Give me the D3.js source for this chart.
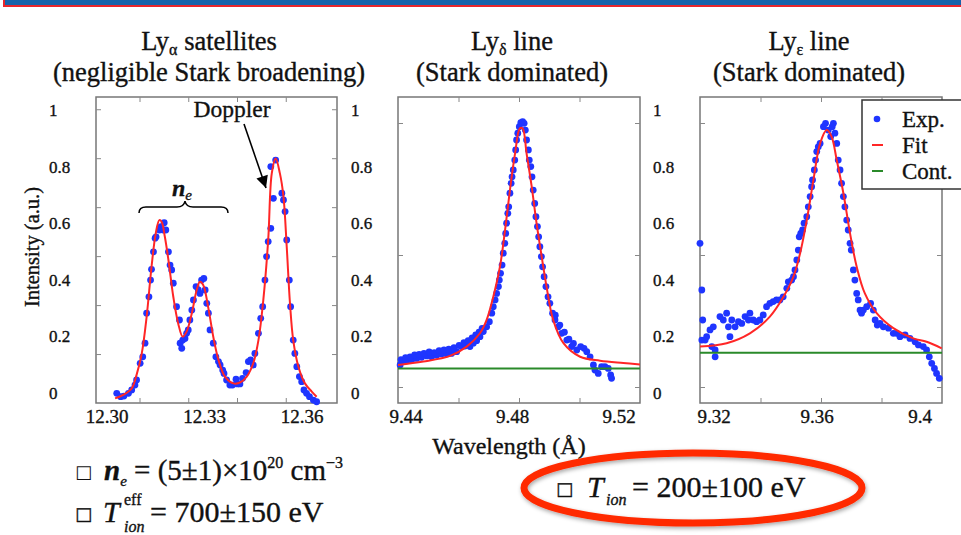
<!DOCTYPE html>
<html>
<head>
<meta charset="utf-8">
<script src="https://cdn.jsdelivr.net/npm/d3@7/dist/d3.min.js"></script>
<style>
  body { margin: 0; background: #fff; }
  svg { display: block; font-family: "Liberation Serif", "Times New Roman", serif; }
  svg text { stroke: #111; stroke-width: 0.35px; }
</style>
</head>
<body>
<div id="chart"></div>
<script>
// ---- data: [wavelength (Å), intensity (a.u.)] ----
const satExp = [
  [12.3030, -0.001], [12.3042, -0.013], [12.3052, -0.011], [12.3066, -0.001], [12.3076, 0.011],
  [12.3086, 0.028], [12.3091, 0.046], [12.3102, 0.105], [12.3110, 0.128], [12.3117, 0.176],
  [12.3122, 0.282], [12.3129, 0.340], [12.3134, 0.399], [12.3137, 0.437], [12.3143, 0.499],
  [12.3148, 0.547], [12.3151, 0.552], [12.3161, 0.576], [12.3166, 0.588], [12.3173, 0.576],
  [12.3176, 0.602], [12.3181, 0.576], [12.3189, 0.499], [12.3194, 0.452], [12.3199, 0.435],
  [12.3204, 0.388], [12.3214, 0.305], [12.3223, 0.258], [12.3225, 0.176], [12.3230, 0.158],
  [12.3233, 0.187], [12.3240, 0.193], [12.3245, 0.211], [12.3250, 0.223], [12.3255, 0.258],
  [12.3261, 0.293], [12.3266, 0.329], [12.3274, 0.376], [12.3281, 0.364], [12.3286, 0.352],
  [12.3291, 0.399], [12.3298, 0.405], [12.3302, 0.364], [12.3307, 0.317], [12.3312, 0.282],
  [12.3317, 0.223], [12.3327, 0.176], [12.3335, 0.128], [12.3343, 0.111], [12.3348, 0.099],
  [12.3356, 0.081], [12.3360, 0.069], [12.3368, 0.046], [12.3378, 0.028], [12.3386, 0.028],
  [12.3397, 0.049], [12.3401, 0.032], [12.3409, 0.032], [12.3417, 0.052], [12.3428, 0.072],
  [12.3435, 0.111], [12.3442, 0.117], [12.3450, 0.099], [12.3455, 0.140], [12.3466, 0.211],
  [12.3473, 0.264], [12.3479, 0.305], [12.3486, 0.399], [12.3491, 0.482], [12.3496, 0.535],
  [12.3504, 0.582], [12.3512, 0.688], [12.3504, 0.800], [12.3519, 0.823], [12.3538, 0.706],
  [12.3543, 0.682], [12.3548, 0.641], [12.3553, 0.541], [12.3561, 0.399], [12.3565, 0.305],
  [12.3573, 0.187], [12.3578, 0.140], [12.3584, 0.093], [12.3592, 0.058], [12.3599, 0.040],
  [12.3606, 0.011], [12.3614, -0.001], [12.3623, -0.013], [12.3635, -0.025], [12.3645, -0.031]
];
const satFit = [
  [12.3025, -0.019], [12.3050, -0.007], [12.3076, 0.016], [12.3091, 0.064], [12.3107, 0.140],
  [12.3122, 0.270], [12.3137, 0.446], [12.3150, 0.564], [12.3161, 0.611], [12.3168, 0.605],
  [12.3178, 0.552], [12.3189, 0.470], [12.3204, 0.340], [12.3219, 0.246], [12.3233, 0.199],
  [12.3245, 0.217], [12.3261, 0.282], [12.3276, 0.364], [12.3286, 0.393], [12.3296, 0.382],
  [12.3312, 0.299], [12.3327, 0.199], [12.3343, 0.117], [12.3363, 0.058], [12.3389, 0.034],
  [12.3409, 0.037], [12.3430, 0.058], [12.3450, 0.105], [12.3466, 0.187], [12.3481, 0.329],
  [12.3496, 0.541], [12.3507, 0.776], [12.3519, 0.829], [12.3532, 0.776], [12.3543, 0.694],
  [12.3553, 0.517], [12.3563, 0.317], [12.3573, 0.187], [12.3589, 0.093], [12.3609, 0.034],
  [12.3630, 0.005], [12.3645, -0.013]
];

const deltaExp = [
  [9.4407, 0.099], [9.4418, 0.111], [9.4429, 0.114], [9.4445, 0.117], [9.4462, 0.122],
  [9.4478, 0.126], [9.4495, 0.131], [9.4511, 0.128], [9.4528, 0.133], [9.4544, 0.138],
  [9.4561, 0.138], [9.4577, 0.140], [9.4594, 0.146], [9.4610, 0.164], [9.4621, 0.166],
  [9.4638, 0.164], [9.4649, 0.176], [9.4660, 0.185], [9.4671, 0.199], [9.4682, 0.217],
  [9.4693, 0.234], [9.4702, 0.252], [9.4710, 0.282], [9.4715, 0.305], [9.4721, 0.329],
  [9.4726, 0.352], [9.4732, 0.376], [9.4735, 0.399], [9.4739, 0.423], [9.4744, 0.452],
  [9.4748, 0.494], [9.4753, 0.529], [9.4756, 0.564], [9.4759, 0.600], [9.4763, 0.635],
  [9.4766, 0.658], [9.4770, 0.706], [9.4774, 0.741], [9.4777, 0.764], [9.4781, 0.788],
  [9.4786, 0.823], [9.4789, 0.859], [9.4792, 0.894], [9.4796, 0.918], [9.4801, 0.941],
  [9.4806, 0.955], [9.4812, 0.959], [9.4817, 0.953], [9.4821, 0.929], [9.4825, 0.894],
  [9.4831, 0.859], [9.4834, 0.823], [9.4839, 0.800], [9.4843, 0.764], [9.4847, 0.717],
  [9.4852, 0.670], [9.4856, 0.623], [9.4861, 0.588], [9.4865, 0.552], [9.4869, 0.517],
  [9.4874, 0.482], [9.4878, 0.446], [9.4883, 0.411], [9.4889, 0.376], [9.4896, 0.340],
  [9.4902, 0.317], [9.4911, 0.282], [9.4919, 0.258], [9.4930, 0.234], [9.4941, 0.211],
  [9.4958, 0.187], [9.4974, 0.164], [9.4991, 0.152], [9.5004, 0.164], [9.5015, 0.158],
  [9.5024, 0.146], [9.5035, 0.128], [9.5046, 0.099], [9.5051, 0.081], [9.5062, 0.069],
  [9.5073, 0.093], [9.5084, 0.093], [9.5095, 0.087], [9.5103, 0.064], [9.5106, 0.052],
  // upper edge of the dense band in the wings
  [9.4410, 0.118], [9.4425, 0.125], [9.4440, 0.128], [9.4455, 0.135], [9.4470, 0.136],
  [9.4486, 0.140], [9.4503, 0.145], [9.4520, 0.143], [9.4536, 0.150], [9.4552, 0.152],
  [9.4568, 0.155], [9.4585, 0.160], [9.4602, 0.168], [9.4618, 0.178], [9.4632, 0.185],
  [9.4645, 0.195], [9.4657, 0.205], [9.4668, 0.215], [9.4678, 0.228],
  [9.4920, 0.275], [9.4935, 0.240], [9.4950, 0.215], [9.4965, 0.190], [9.4980, 0.175]
];
const deltaFit = [
  [9.4400, 0.099], [9.4484, 0.111], [9.4572, 0.131], [9.4627, 0.164], [9.4671, 0.211],
  [9.4693, 0.258], [9.4715, 0.340], [9.4737, 0.446], [9.4754, 0.576], [9.4770, 0.717],
  [9.4787, 0.847], [9.4803, 0.935], [9.4812, 0.935], [9.4825, 0.847], [9.4842, 0.729],
  [9.4858, 0.600], [9.4875, 0.482], [9.4891, 0.376], [9.4913, 0.258], [9.4947, 0.176],
  [9.5002, 0.128], [9.5068, 0.114], [9.5145, 0.106], [9.5200, 0.101]
];
const deltaCont = 0.087;

const epsExp = [
  [9.3200, 0.529], [9.3206, 0.364], [9.3209, 0.258], [9.3206, 0.187], [9.3217, 0.187],
  [9.3222, 0.199], [9.3233, 0.223], [9.3244, 0.234], [9.3239, 0.164], [9.3250, 0.152],
  [9.3250, 0.128], [9.3266, 0.270], [9.3277, 0.258], [9.3288, 0.282], [9.3294, 0.234],
  [9.3299, 0.199], [9.3305, 0.258], [9.3316, 0.234], [9.3327, 0.252], [9.3338, 0.246],
  [9.3349, 0.270], [9.3360, 0.258], [9.3365, 0.282], [9.3376, 0.258], [9.3387, 0.252],
  [9.3398, 0.258], [9.3409, 0.276], [9.3420, 0.305], [9.3431, 0.317], [9.3442, 0.323],
  [9.3453, 0.329], [9.3464, 0.329], [9.3475, 0.340], [9.3487, 0.370], [9.3492, 0.393],
  [9.3503, 0.399], [9.3509, 0.411], [9.3514, 0.435], [9.3520, 0.470], [9.3525, 0.505],
  [9.3528, 0.552], [9.3533, 0.564], [9.3539, 0.576], [9.3544, 0.600], [9.3553, 0.623],
  [9.3558, 0.658], [9.3564, 0.694], [9.3569, 0.729], [9.3572, 0.753], [9.3578, 0.788],
  [9.3582, 0.823], [9.3586, 0.853], [9.3591, 0.870], [9.3597, 0.882], [9.3608, 0.941],
  [9.3615, 0.953], [9.3624, 0.929], [9.3632, 0.906], [9.3637, 0.941], [9.3641, 0.953],
  [9.3646, 0.918], [9.3652, 0.882], [9.3657, 0.823], [9.3663, 0.788], [9.3668, 0.741],
  [9.3674, 0.694], [9.3679, 0.658], [9.3685, 0.611], [9.3690, 0.576], [9.3696, 0.529],
  [9.3700, 0.505], [9.3707, 0.435], [9.3712, 0.399], [9.3718, 0.352], [9.3723, 0.329],
  [9.3729, 0.293], [9.3734, 0.282], [9.3740, 0.293], [9.3751, 0.305], [9.3764, 0.317],
  [9.3773, 0.293], [9.3779, 0.258], [9.3786, 0.240], [9.3795, 0.246], [9.3806, 0.234],
  [9.3823, 0.229], [9.3839, 0.211], [9.3850, 0.211], [9.3861, 0.199], [9.3878, 0.205],
  [9.3894, 0.193], [9.3911, 0.181], [9.3922, 0.170], [9.3938, 0.164], [9.3949, 0.152],
  [9.3958, 0.128], [9.3966, 0.105], [9.3975, 0.087], [9.3982, 0.069], [9.3991, 0.052]
];
const epsFit = [
  [9.3200, 0.164], [9.3288, 0.176], [9.3365, 0.211], [9.3431, 0.270], [9.3476, 0.340],
  [9.3509, 0.411], [9.3531, 0.494], [9.3553, 0.611], [9.3575, 0.753], [9.3597, 0.882],
  [9.3619, 0.929], [9.3635, 0.906], [9.3652, 0.823], [9.3674, 0.706], [9.3696, 0.564],
  [9.3718, 0.446], [9.3745, 0.352], [9.3784, 0.282], [9.3839, 0.229], [9.3905, 0.193],
  [9.3949, 0.181], [9.3999, 0.158]
];
const epsCont = 0.142;

// tick labels
const yTicks = [0, 0.2, 0.4, 0.6, 0.8, 1];
const satTicks = [12.30, 12.33, 12.36];
const deltaTicks = [9.44, 9.48, 9.52];
const epsTicks = [9.32, 9.36, 9.4];

const blue = "#1f35ff", red = "#ff2626", green = "#2a8a2a";
const serif = "Liberation Serif, Times New Roman, serif";

const svg = d3.select("#chart").append("svg").attr("width", 961).attr("height", 535);
const defs = svg.append("defs");

// slide header bar
svg.append("rect")
  .attr("x", 4).attr("y", -20).attr("width", 990).attr("height", 26)
  .attr("fill", "#1763aa").attr("stroke", "#e8262b").attr("stroke-width", 2);

// shared intensity scale (same printed labels on all three panels)
const y = d3.scaleLinear().domain([0, 1]).range([393, 110]);
const frameTop = 97, frameBottom = 403;

const panels = [
  {
    left: 96, right: 337, domain: [12.30, 12.36], range: [107, 302], labelRange: [107, 302],
    ticks: satTicks, fmt: d3.format(".2f"), minorX: [12.31, 12.325, 12.34, 12.355],
    innerY: d3.scaleLinear().domain([0, 1.25]).range([403, 97]), minorY: [0.2, 0.4, 0.6, 0.8, 1, 1.2],
    exp: satExp, fit: satFit, cont: null, cx: 209, greek: "α", name: " satellites",
    sub: "(negligible Stark broadening)"
  },
  {
    left: 398, right: 640, domain: [9.44, 9.52], range: [398, 640], labelRange: [406, 619],
    ticks: deltaTicks, fmt: d3.format(".2f"), minorX: [9.46, 9.48, 9.50],
    innerY: d3.scaleLinear().domain([0, 1]).range([387, 123]), minorY: [0, 0.5, 1],
    exp: deltaExp, fit: deltaFit, cont: deltaCont, cx: 512, greek: "δ", name: " line",
    sub: "(Stark dominated)"
  },
  {
    left: 700, right: 942, domain: [9.32, 9.40], range: [700, 942], labelRange: [714, 920],
    ticks: epsTicks, fmt: d3.format(".2~f"), minorX: [9.34, 9.36, 9.38],
    innerY: d3.scaleLinear().domain([0, 1]).range([387, 123]), minorY: [0, 0.5, 1],
    exp: epsExp, fit: epsFit, cont: epsCont, cx: 809, greek: "ε", name: " line",
    sub: "(Stark dominated)"
  }
];

panels.forEach(function (p) {
  const x = d3.scaleLinear().domain(p.domain).range(p.range);
  const xl = d3.scaleLinear().domain(p.domain).range(p.labelRange);
  const g = svg.append("g");

  // title
  const t = g.append("text").attr("x", p.cx).attr("y", 50)
    .attr("text-anchor", "middle").attr("font-size", 26.5).attr("fill", "#111");
  t.append("tspan").text("Ly");
  t.append("tspan").attr("font-size", 16).attr("dy", 5).text(p.greek);
  t.append("tspan").attr("dy", -5).text(p.name);
  g.append("text").attr("x", p.cx).attr("y", 81)
    .attr("text-anchor", "middle").attr("font-size", 26.5).attr("fill", "#111")
    .text(p.sub);

  // frame with inward ticks
  g.append("rect")
    .attr("x", p.left).attr("y", frameTop)
    .attr("width", p.right - p.left).attr("height", frameBottom - frameTop)
    .attr("fill", "none").attr("stroke", "#777").attr("stroke-width", 1.5);

  const tickAxes = [
    [d3.axisBottom(x).tickValues(p.minorX), `translate(0,${frameBottom})`],
    [d3.axisTop(x).tickValues(p.minorX), `translate(0,${frameTop})`],
    [d3.axisLeft(p.innerY).tickValues(p.minorY), `translate(${p.left},0)`],
    [d3.axisRight(p.innerY).tickValues(p.minorY), `translate(${p.right},0)`]
  ];
  tickAxes.forEach(function ([axis, tr]) {
    const a = g.append("g").attr("transform", tr)
      .call(axis.tickSize(-5).tickFormat(""));
    a.select(".domain").remove();
    a.selectAll("line").attr("stroke", "#888");
  });

  // printed tick labels
  g.selectAll(".ylab").data(yTicks).enter().append("text")
    .attr("class", "ylab")
    .attr("x", p.left - 47).attr("y", d => y(d)).attr("dy", "0.35em")
    .attr("font-size", 17).attr("fill", "#111").text(d => d);
  g.selectAll(".xlab").data(p.ticks).enter().append("text")
    .attr("class", "xlab")
    .attr("x", d => xl(d)).attr("y", 423).attr("text-anchor", "middle")
    .attr("font-size", 19).attr("fill", "#111").text(d => p.fmt(d));

  // experimental points
  g.selectAll(".pt").data(p.exp).enter().append("circle")
    .attr("class", "pt")
    .attr("cx", d => x(d[0])).attr("cy", d => y(d[1]))
    .attr("r", 3.4).attr("fill", blue);

  // fit
  const line = d3.line().x(d => x(d[0])).y(d => y(d[1])).curve(d3.curveCatmullRom);
  g.append("path").datum(p.fit).attr("d", line)
    .attr("fill", "none").attr("stroke", red).attr("stroke-width", 2);

  // continuum level
  if (p.cont !== null) {
    g.append("line")
      .attr("x1", x(p.domain[0])).attr("x2", x(p.domain[1]))
      .attr("y1", y(p.cont)).attr("y2", y(p.cont))
      .attr("stroke", green).attr("stroke-width", 2);
  }
});

// axis titles
svg.append("text")
  .attr("transform", "translate(39,247) rotate(-90)")
  .attr("text-anchor", "middle").attr("font-size", 20.5).attr("fill", "#111")
  .text("Intensity (a.u.)");
svg.append("text")
  .attr("x", 509).attr("y", 454).attr("text-anchor", "middle")
  .attr("font-size", 24).attr("fill", "#111")
  .text("Wavelength (Å)");

// annotations on the satellites panel
defs.append("marker")
  .attr("id", "arrow").attr("viewBox", "0 0 10 10")
  .attr("refX", 10).attr("refY", 5)
  .attr("markerUnits", "userSpaceOnUse")
  .attr("markerWidth", 13).attr("markerHeight", 12)
  .attr("orient", "auto")
  .append("path").attr("d", "M0,0 L10,5 L0,10 z").attr("fill", "#000");

svg.append("text").attr("x", 232).attr("y", 117).attr("text-anchor", "middle")
  .attr("font-size", 23.5).attr("fill", "#111").text("Doppler");
svg.append("line")
  .attr("x1", 244).attr("y1", 124).attr("x2", 266).attr("y2", 188)
  .attr("stroke", "#000").attr("stroke-width", 1.6)
  .attr("marker-end", "url(#arrow)");

svg.append("path")
  .attr("d", "M139,213 Q139,207 146,207 L177,207 Q184,207 185,201 Q186,207 193,207 L221,207 Q228,207 228,213")
  .attr("fill", "none").attr("stroke", "#000").attr("stroke-width", 1.5);
const ne = svg.append("text").attr("x", 172).attr("y", 196)
  .attr("font-size", 24).attr("font-style", "italic").attr("font-weight", "bold").attr("fill", "#111");
ne.append("tspan").text("n");
ne.append("tspan").attr("font-size", 15).attr("font-weight", "normal").attr("dy", 4).text("e");

// legend
const legend = svg.append("g");
legend.append("rect")
  .attr("x", 862).attr("y", 100).attr("width", 110).attr("height", 89)
  .attr("fill", "#fff").attr("stroke", "#333").attr("stroke-width", 1.5);
const items = [["Exp.", "dot", blue], ["Fit", "line", red], ["Cont.", "line", green]];
items.forEach(function ([label, kind, color], i) {
  const cy = 119 + i * 26;
  if (kind === "dot") {
    legend.append("circle").attr("cx", 877).attr("cy", cy).attr("r", 3.3).attr("fill", color);
  } else {
    legend.append("line").attr("x1", 872).attr("x2", 883).attr("y1", cy).attr("y2", cy)
      .attr("stroke", color).attr("stroke-width", 2);
  }
  legend.append("text").attr("x", 902).attr("y", cy + 8)
    .attr("font-size", 23).attr("fill", "#111").text(label);
});

// results below the plots
const box = "\u25A1";
const eq1 = svg.append("text").attr("x", 75).attr("y", 480)
  .attr("font-family", serif).attr("font-size", 29).attr("fill", "#111");
eq1.append("tspan").attr("font-family", "DejaVu Sans").attr("font-size", 18).attr("dy", -2)
  .attr("stroke-width", 0).text(box);
eq1.append("tspan").attr("dx", 12).attr("dy", 2).attr("font-style", "italic").attr("font-weight", "bold").text("n");
eq1.append("tspan").attr("font-style", "italic").attr("font-size", 15).attr("dy", 6).text("e");
eq1.append("tspan").attr("dy", -6).text(" = (5±1)×10");
eq1.append("tspan").attr("font-size", 16).attr("dy", -12).text("20");
eq1.append("tspan").attr("dy", 12).text("  cm");
eq1.append("tspan").attr("font-size", 16).attr("dy", -12).text("−3");

svg.append("text").attr("x", 75).attr("y", 520).attr("font-family", "DejaVu Sans")
  .attr("font-size", 18).attr("stroke-width", 0).attr("fill", "#111").text(box);
svg.append("text").attr("x", 103).attr("y", 522).attr("font-family", serif).attr("font-size", 30)
  .attr("font-style", "italic").attr("fill", "#111").text("T");
svg.append("text").attr("x", 124).attr("y", 505).attr("font-family", serif)
  .attr("font-size", 16).attr("fill", "#111").text("eff");
svg.append("text").attr("x", 124).attr("y", 532).attr("font-family", serif).attr("font-size", 16)
  .attr("font-style", "italic").attr("fill", "#111").text("ion");
svg.append("text").attr("x", 150).attr("y", 522).attr("font-family", serif)
  .attr("font-size", 30).attr("fill", "#111")
  .text("= 700±150 eV");

// highlighted ion temperature
const shadow = defs.append("filter").attr("id", "shadow")
  .attr("x", "-10%").attr("y", "-30%").attr("width", "120%").attr("height", "160%");
shadow.append("feDropShadow").attr("dx", 1).attr("dy", 2)
  .attr("stdDeviation", 2).attr("flood-color", "#000").attr("flood-opacity", 0.35);

svg.append("text").attr("x", 556).attr("y", 495).attr("font-family", "DejaVu Sans")
  .attr("font-size", 18).attr("stroke-width", 0).attr("fill", "#111").text(box);
svg.append("text").attr("x", 587).attr("y", 497).attr("font-family", serif).attr("font-size", 30)
  .attr("font-style", "italic").attr("fill", "#111").text("T");
svg.append("text").attr("x", 606).attr("y", 505).attr("font-family", serif).attr("font-size", 16)
  .attr("font-style", "italic").attr("fill", "#111").text("ion");
svg.append("text").attr("x", 632).attr("y", 497).attr("font-family", serif)
  .attr("font-size", 30).attr("fill", "#111")
  .text("= 200±100 eV");
svg.append("ellipse")
  .attr("cx", 693).attr("cy", 488).attr("rx", 169).attr("ry", 35)
  .attr("fill", "none").attr("stroke", "#ff2a00").attr("stroke-width", 7)
  .attr("filter", "url(#shadow)");
</script>
</body>
</html>
